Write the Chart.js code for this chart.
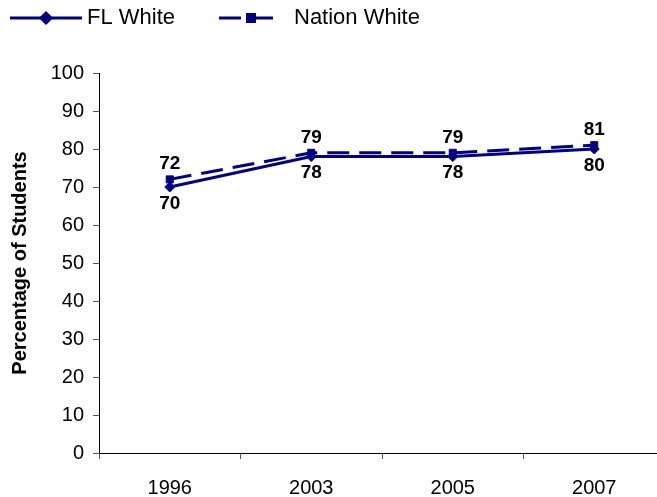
<!DOCTYPE html>
<html>
<head>
<meta charset="utf-8">
<script src="https://cdn.jsdelivr.net/npm/chart.js@4/dist/chart.umd.min.js"></script>
<style>
  html, body { margin: 0; padding: 0; background: #fff; overflow: hidden; }
  #wrap { width: 680px; height: 497px; }
</style>
</head>
<body>
<div id="wrap"><canvas id="c" width="680" height="497"></canvas></div>
<script>
const years = ['1996', '2003', '2005', '2007'];
const flWhite = [70, 78, 78, 80];
const nationWhite = [72, 79, 79, 81];
const yTicks = [0, 10, 20, 30, 40, 50, 60, 70, 80, 90, 100];

const NAVY = '#000080';
const FONT = '"Liberation Sans", Arial, sans-serif';

// Legend drawn across the top: line sample with marker, then label
const topLegend = {
  id: 'topLegend',
  afterDraw(chart) {
    const ctx = chart.ctx;
    const items = [
      { ds: chart.data.datasets[0], x0: 10, x1: 82, tx: 87 },
      { ds: chart.data.datasets[1], x0: 219, x1: 283, tx: 294 }
    ];
    const y = 18;
    ctx.save();
    items.forEach(it => {
      ctx.strokeStyle = NAVY;
      ctx.lineWidth = 3;
      ctx.setLineDash(it.ds.borderDash || []);
      ctx.beginPath();
      ctx.moveTo(it.x0, y);
      ctx.lineTo(it.x1, y);
      ctx.stroke();
      ctx.setLineDash([]);
      const mx = (it.x0 + it.x1) / 2;
      Chart.helpers.drawPoint(ctx, {
        pointStyle: it.ds.pointStyle, radius: it.ds.pointRadius,
        borderWidth: 1, rotation: 0
      }, mx, y);
      ctx.fillStyle = NAVY;
      ctx.fill();
      ctx.fillStyle = '#000';
      ctx.font = '22px ' + FONT;
      ctx.textBaseline = 'middle';
      ctx.textAlign = 'left';
      ctx.fillText(it.ds.label, it.tx, y);
    });
    ctx.restore();
  }
};

// Value labels: FL White below its points, Nation White above
const valueLabels = {
  id: 'valueLabels',
  afterDatasetsDraw(chart) {
    const ctx = chart.ctx;
    ctx.save();
    ctx.font = 'bold 19px ' + FONT;
    ctx.fillStyle = '#000';
    ctx.textAlign = 'center';
    chart.data.datasets.forEach((ds, i) => {
      const meta = chart.getDatasetMeta(i);
      meta.data.forEach((pt, j) => {
        const v = ds.data[j];
        if (i === 0) {
          ctx.textBaseline = 'top';
          ctx.fillText(String(v), pt.x, pt.y + 7);
        } else {
          ctx.textBaseline = 'bottom';
          ctx.fillText(String(v), pt.x, pt.y - 6);
        }
      });
    });
    ctx.restore();
  }
};

new Chart(document.getElementById('c'), {
  type: 'line',
  data: {
    labels: years,
    datasets: [
      {
        label: 'FL White',
        data: flWhite,
        borderColor: NAVY,
        backgroundColor: NAVY,
        borderWidth: 3,
        pointStyle: 'rectRot',
        pointRadius: 5,
        pointBorderWidth: 1,
        tension: 0,
        fill: false
      },
      {
        label: 'Nation White',
        data: nationWhite,
        borderColor: NAVY,
        backgroundColor: NAVY,
        borderWidth: 3,
        borderDash: [22, 10],
        pointStyle: 'rect',
        pointRadius: 5,
        pointBorderWidth: 1,
        tension: 0,
        fill: false
      }
    ]
  },
  options: {
    responsive: false,
    animation: false,
    layout: { padding: { top: 73, right: 15, left: 0, bottom: 0 } },
    plugins: {
      legend: { display: false },
      tooltip: { enabled: false }
    },
    scales: {
      x: {
        offset: true,
        grid: {
          offset: true,
          drawOnChartArea: false,
          drawTicks: true,
          tickLength: 6,
          color: '#555'
        },
        border: { color: '#000', width: 1 },
        ticks: {
          color: '#000',
          font: { family: FONT, size: 20 },
          padding: 17,
          maxRotation: 0
        },
        afterFit(scale) { scale.height = 44; }
      },
      y: {
        min: 0,
        max: 100,
        afterBuildTicks(scale) { scale.ticks = yTicks.map(v => ({ value: v })); },
        grid: {
          drawOnChartArea: false,
          drawTicks: true,
          tickLength: 6,
          color: '#555'
        },
        border: { color: '#000', width: 1 },
        ticks: {
          color: '#000',
          font: { family: FONT, size: 20 },
          padding: 9
        },
        title: {
          display: true,
          text: 'Percentage of Students',
          color: '#000',
          font: { family: FONT, size: 20, weight: 'bold' },
          padding: { top: 8, bottom: 0 }
        },
        afterFit(scale) { scale.width = 99; }
      }
    }
  },
  plugins: [topLegend, valueLabels]
});
</script>
</body>
</html>
